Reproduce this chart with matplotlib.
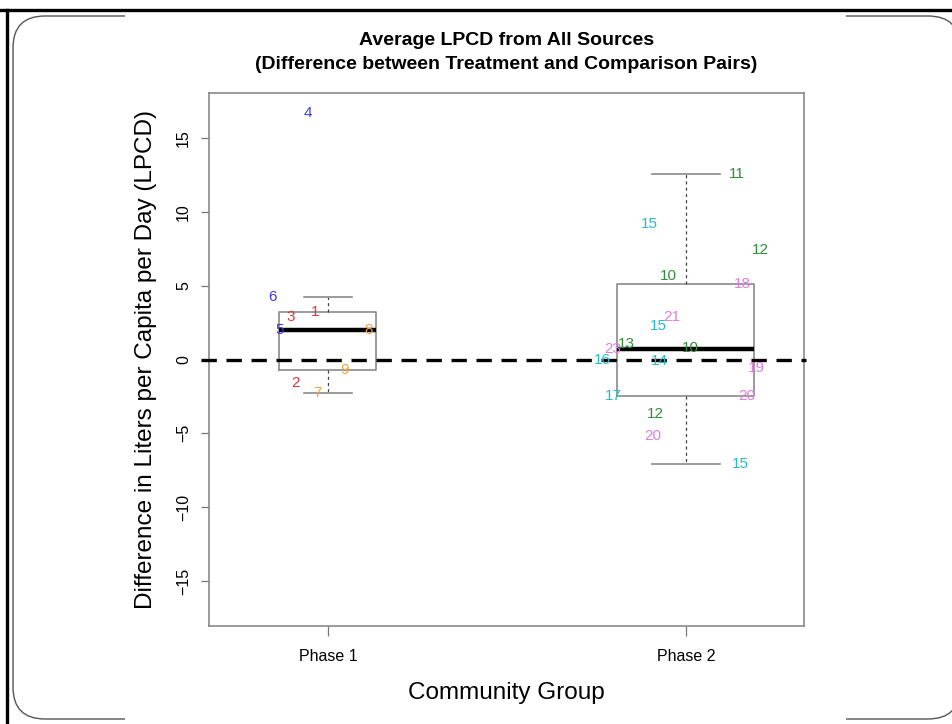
import numpy as np
import matplotlib
matplotlib.use("Agg")
import matplotlib.pyplot as plt
from matplotlib.patches import FancyBboxPatch, Rectangle
from matplotlib.lines import Line2D
from matplotlib.transforms import IdentityTransform

plt.rcParams['font.family'] = ['Liberation Sans', 'DejaVu Sans']

# data
groups = ['Phase 1', 'Phase 2']

p1_ids = ['4', '6', '1', '3', '5', '8', '9', '2', '7']
p1_vals = [16.7, 4.2, 3.25, 2.85, 2.03, 2.03, -0.68, -1.56, -2.3]
p1_jit = [0.944, 0.846, 0.964, 0.897, 0.866, 1.115, 1.047, 0.911, 0.972]

p2_ids = ['11', '15', '12', '10', '18', '21', '15', '13', '10',
          '23', '16', '14', '19', '17', '20', '12', '20', '15']
p2_vals = [12.54, 9.15, 7.39, 5.63, 5.08, 2.9, 2.3, 1.08, 0.78,
           0.7, 0.0, -0.1, -0.6, -2.5, -2.44, -3.66, -5.15, -7.05]
p2_jit = [2.142, 1.897, 2.209, 1.950, 2.159, 1.961, 1.922, 1.835, 2.014,
          1.796, 1.768, 1.927, 2.198, 1.796, 2.170, 1.916, 1.908, 2.151]

# community colour by id
def id_color(i):
    i = int(i)
    if i <= 3:
        return '#e8333a'
    if i <= 6:
        return '#3b3bd8'
    if i <= 9:
        return '#f2a43a'
    if i <= 13:
        return '#2f8f3a'
    if i <= 17:
        return '#25bcc8'
    return '#e07ee0'


def fivenum_stats(vals, label):
    # Tukey hinges like R's boxplot
    x = np.sort(np.asarray(vals, dtype=float))
    n = len(x)
    n4 = np.floor((n + 3) / 2) / 2
    d = np.array([1, n4, (n + 1) / 2, n + 1 - n4, n])
    fn = 0.5 * (x[np.floor(d - 1).astype(int)] + x[np.ceil(d - 1).astype(int)])
    q1, med, q3 = fn[1], fn[2], fn[3]
    iqr = q3 - q1
    lo = x[x >= q1 - 1.5 * iqr].min()
    hi = x[x <= q3 + 1.5 * iqr].max()
    return dict(med=med, q1=q1, q3=q3, whislo=lo, whishi=hi, fliers=[], label=label)


stats = [fivenum_stats(p1_vals, groups[0]), fivenum_stats(p2_vals, groups[1])]
ns = np.array([len(p1_vals), len(p2_vals)])
widths = 0.383 * np.sqrt(ns / ns.max())

W, H = 953, 724
fig = plt.figure(figsize=(W / 100, H / 100), dpi=100)

# slide frame around the chart
px = IdentityTransform()
frame = FancyBboxPatch((13, H - 719), 960 - 13, 719 - 16,
                       boxstyle="round,pad=0,rounding_size=32",
                       fc='white', ec='#555555', lw=1.0, transform=px, zorder=-3)
fig.add_artist(frame)
fig.add_artist(Rectangle((125, 1), 846 - 125, 712, fc='white', ec='none',
                         transform=px, zorder=-2))
fig.add_artist(Line2D([0, W], [H - 10, H - 10], color='black', lw=2.4, transform=px))
fig.add_artist(Line2D([7, 7], [0, H - 10], color='black', lw=2.4, transform=px))

ax = fig.add_axes([209 / W, 1 - 626 / H, (804 - 209) / W, (626 - 93) / H])

ax.bxp(stats, positions=[1, 2], widths=widths, capwidths=widths / 2,
       showfliers=False,
       boxprops=dict(color='#8a8a8a', lw=1.2),
       whiskerprops=dict(color='#444444', lw=0.9, linestyle=(0, (2.5, 2.5))),
       capprops=dict(color='#8a8a8a', lw=1.2),
       medianprops=dict(color='black', lw=3.2, solid_capstyle='butt'))

ax.plot([-0.013, 1.003], [0, 0], color='black', lw=2.4, linestyle=(0, (4.6, 2.9)),
        transform=ax.get_yaxis_transform(), clip_on=False, zorder=3)

for ids, vals, jit in [(p1_ids, p1_vals, p1_jit), (p2_ids, p2_vals, p2_jit)]:
    for i, v, xj in zip(ids, vals, jit):
        ax.text(xj, v, i, color=id_color(i), fontsize=11, ha='center', va='center', zorder=4)

ax.set_xlim(0.668, 2.33)
ax.set_ylim(-18.05, 18.05)
ax.set_yticks([-15, -10, -5, 0, 5, 10, 15])
ax.set_xticks([1, 2])
ax.set_xticklabels(groups)
for lab in ax.get_yticklabels():
    lab.set_rotation(90)
    lab.set_va('center')
ax.tick_params(axis='both', colors='#777777', labelcolor='black', length=6, width=0.9)
ax.tick_params(axis='y', labelsize=11.5, pad=7)
ax.tick_params(axis='x', labelsize=11.5, pad=9, length=7.5)
for s in ax.spines.values():
    s.set_color('#8a8a8a')
    s.set_linewidth(1.2)

ax.set_title('Average LPCD from All Sources\n(Difference between Treatment and Comparison Pairs)',
             fontsize=14, fontweight='bold', linespacing=1.55, pad=17)
ax.set_ylabel('Difference in Liters per Capita per Day (LPCD)', fontsize=17.5)
ax.yaxis.label.set_va('center')
ax.yaxis.set_label_coords(-(209 - 146) / (804 - 209), 0.5)
ax.set_xlabel('Community Group', fontsize=17.5)
ax.xaxis.label.set_va('center')
ax.xaxis.set_label_coords(0.5, -(693 - 626) / (626 - 93))

fig.savefig('out.png', dpi=100)
